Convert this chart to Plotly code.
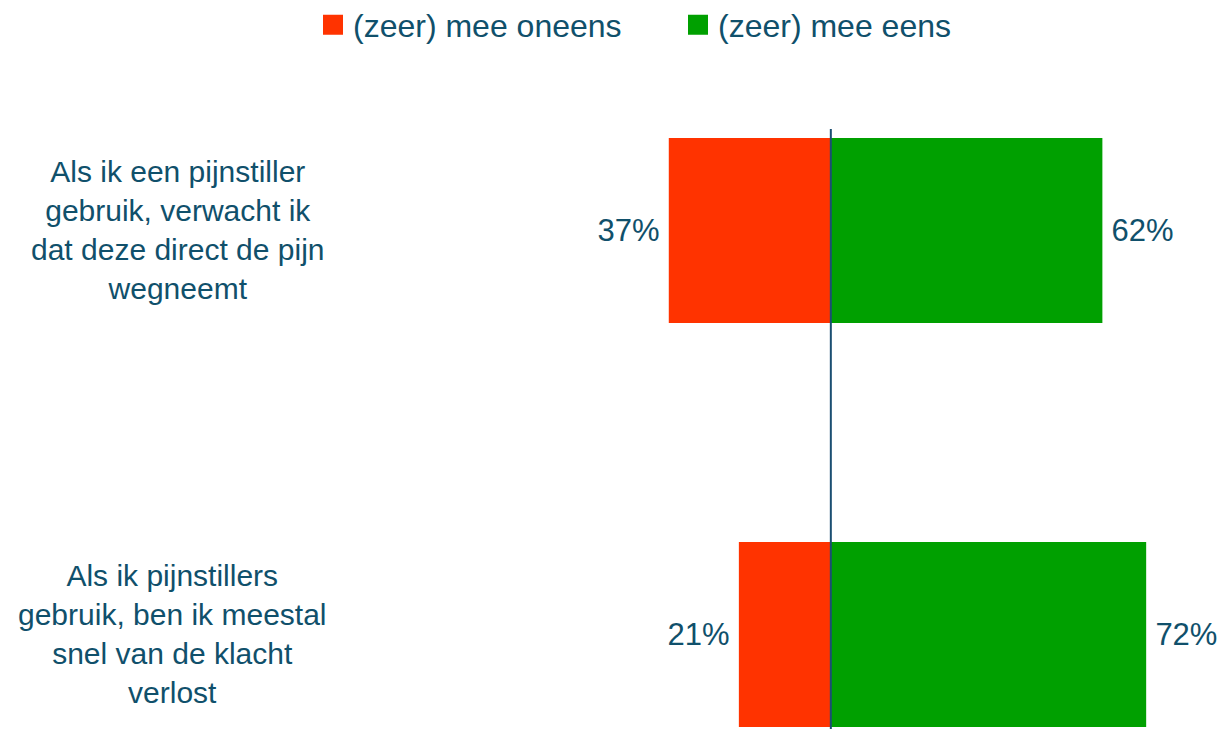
import plotly.graph_objects as go

TEXT = "#10506B"
LINE = "#1B4F72"
RED = "#FF3300"
GREEN = "#00A000"
FONT = "Liberation Sans, Arial, sans-serif"

categories = [
    "Als ik een pijnstiller<br>gebruik, verwacht ik<br>dat deze direct de pijn<br>wegneemt",
    "Als ik pijnstillers<br>gebruik, ben ik meestal<br>snel van de klacht<br>verlost",
]
series_names = ["(zeer) mee oneens", "(zeer) mee eens"]
disagree = [37, 21]
agree = [62, 72]

W, H = 1218, 729
label_x = [178, 172]

fig = go.Figure()
fig.add_bar(
    name=series_names[0],
    y=categories,
    x=[-v for v in disagree],
    orientation="h",
    marker=dict(color=RED, line=dict(width=0)),
    width=0.458,
    text=[f"{v}%\u2009" for v in disagree],
    textposition="outside",
    textfont=dict(size=31, color=TEXT),
    constraintext="none",
    cliponaxis=False,
    hoverinfo="none",
    showlegend=False,
)
fig.add_bar(
    name=series_names[1],
    y=categories,
    x=agree,
    orientation="h",
    marker=dict(color=GREEN, line=dict(width=0)),
    width=0.458,
    text=[f"\u2009{v}%" for v in agree],
    textposition="outside",
    textfont=dict(size=31, color=TEXT),
    constraintext="none",
    cliponaxis=False,
    hoverinfo="none",
    showlegend=False,
)

# legend entries with bigger square swatches than the bar default
for name, color in zip(series_names, [RED, GREEN]):
    fig.add_scatter(
        x=[None], y=[None], mode="markers", name=name,
        marker=dict(symbol="square", size=16, color=color,
                    line=dict(width=4, color=color)),
        hoverinfo="none",
    )

# centre line drawn over the bars
fig.add_vline(x=0, line=dict(color=LINE, width=2), layer="above")

fig.update_layout(
    width=W,
    height=H,
    margin=dict(l=0, r=0, t=129, b=0),
    barmode="relative",
    paper_bgcolor="white",
    plot_bgcolor="white",
    font=dict(family=FONT, size=30, color=TEXT),
    showlegend=True,
    legend=dict(
        orientation="h", x=313 / W, xanchor="left",
        y=1 - 25 / H, yref="container", yanchor="middle",
        entrywidth=320, traceorder="normal",
        font=dict(size=32, color=TEXT),
    ),
    xaxis=dict(
        range=[-189.7, 88.4], showticklabels=False, showgrid=False,
        showline=False, zeroline=False, fixedrange=True,
    ),
    yaxis=dict(
        range=[1.234, -0.251], showticklabels=False, showgrid=False,
        showline=False, zeroline=False, fixedrange=True,
    ),
    annotations=[
        dict(
            text=c, x=lx / W, xref="paper", y=c, yref="y",
            xanchor="center", yanchor="middle", align="center",
            showarrow=False, font=dict(size=30, color=TEXT),
        )
        for c, lx in zip(categories, label_x)
    ],
)

fig.write_html(
    "out.html",
    config=dict(displayModeBar=False),
    post_script="document.body.style.margin='0';document.body.style.overflow='hidden';",
)
